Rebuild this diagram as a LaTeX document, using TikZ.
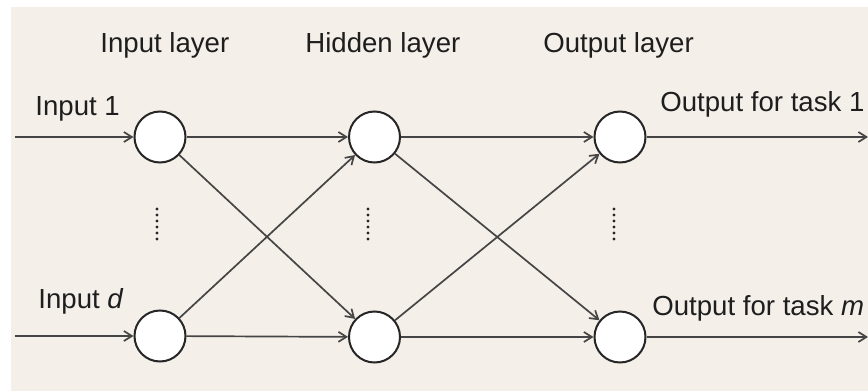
\documentclass[tikz,border=0pt]{standalone}
\usepackage{fontspec}
\setmainfont{Liberation Sans}
\usetikzlibrary{arrows.meta}
\definecolor{bg}{HTML}{F5EFE9}
\definecolor{ln}{HTML}{454545}
\definecolor{txt}{HTML}{1E1E1E}
\tikzset{
  neuron/.style={circle, draw=black!85, line width=1pt, fill=white, minimum size=25.5pt, inner sep=0pt},
  lbl/.style={anchor=base west, inner sep=0pt, text=txt, font=\fontsize{13.8pt}{16pt}\selectfont},
  conn/.style={draw=ln, line width=0.85pt, -{Straight Barb[length=4pt,width=5pt]}},
  vdots/.style={draw=black!85, line width=1.6pt, line cap=round, dash pattern=on 0pt off 3pt}
}
\begin{document}
\begin{tikzpicture}[x=0.5pt,y=-0.5pt]
\useasboundingbox (0,0) rectangle (868,391);
\fill[white] (0,0) rectangle (868,391);
\fill[bg] (11,7) rectangle (868,391);
% layer titles
\node[lbl] (tin) at (100,52) {Input layer};
\node[lbl] (thid) at (305,52) {Hidden layer};
\node[lbl] (tout) at (543,52) {Output layer};
% input / output labels
\node[lbl] (lin1) at (35,115) {Input 1};
\node[lbl] (lind) at (38,308) {Input \textit{d}};
\node[lbl] (lout1) at (660,111) {Output for task 1};
\node[lbl] (loutm) at (652,315) {Output for task \textit{m}};
% neurons
\node[neuron] (i1) at (160,137) {};
\node[neuron] (id) at (160,336) {};
\node[neuron] (h1) at (374.5,137) {};
\node[neuron] (hd) at (374.5,337) {};
\node[neuron] (o1) at (620,137) {};
\node[neuron] (om) at (620,337) {};
% free ends
\coordinate (s1) at (15,137);
\coordinate (sd) at (15,336);
\coordinate (e1) at (868,137);
\coordinate (em) at (868,337);
% connectors
\draw[conn] (s1) -- (i1);
\draw[conn] (sd) -- (id);
\draw[conn] (i1) -- (h1);
\draw[conn] (i1) -- (hd);
\draw[conn] (id) -- (h1);
\draw[conn] (id) -- (hd);
\draw[conn] (h1) -- (o1);
\draw[conn] (h1) -- (om);
\draw[conn] (hd) -- (o1);
\draw[conn] (hd) -- (om);
\draw[conn] (o1) -- (e1);
\draw[conn] (om) -- (em);
% vertical dots
\coordinate (d1a) at (157,209); \coordinate (d1b) at (157,240);
\coordinate (d2a) at (368,209); \coordinate (d2b) at (368,240);
\coordinate (d3a) at (614,209); \coordinate (d3b) at (614,240);
\draw[vdots] (d1a) -- (d1b);
\draw[vdots] (d2a) -- (d2b);
\draw[vdots] (d3a) -- (d3b);
\end{tikzpicture}
\end{document}
